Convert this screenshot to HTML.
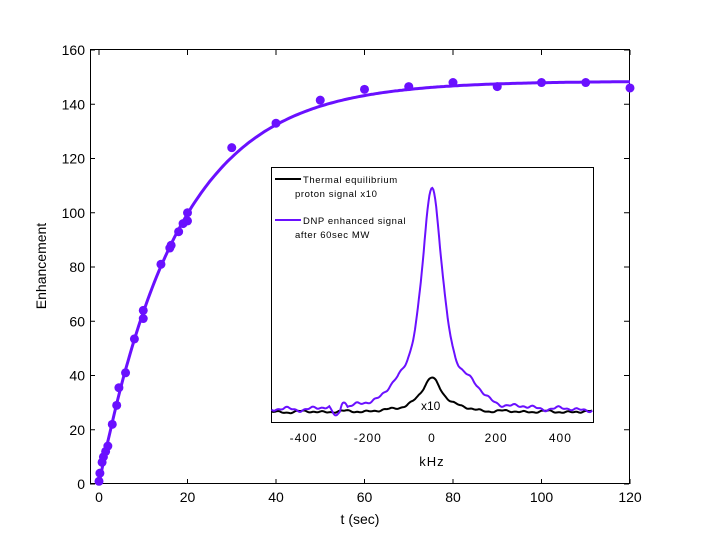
<!DOCTYPE html>
<html><head><meta charset="utf-8"><style>
body{margin:0;background:#fff;}
svg text{font-family:"Liberation Sans",sans-serif;}
</style></head><body>
<svg id="s" width="720" height="540" xmlns="http://www.w3.org/2000/svg">
<rect width="720" height="540" fill="#fff"/>
</svg>
<script>
const S=document.getElementById('s'),NS="http://www.w3.org/2000/svg";
function el(t,a,txt){const e=document.createElementNS(NS,t);for(const k in a)e.setAttribute(k,a[k]);if(txt!==undefined)e.textContent=txt;S.appendChild(e);return e;}
const X=t=>99+t*88.5/20, Y=v=>484-v*2.7125;
el('rect',{x:90.5,y:49.5,width:539,height:434,fill:'none',stroke:'#000','stroke-width':1});
for(let t=0;t<=120;t+=20){const x=X(t);el('line',{x1:x,y1:484,x2:x,y2:479,stroke:'#000'});el('line',{x1:x,y1:50,x2:x,y2:55,stroke:'#000'});
el('text',{x:x,y:502,'font-size':14,'text-anchor':'middle'},t);}
for(let v=0;v<=160;v+=20){const y=Y(v);el('line',{x1:90,y1:y,x2:95,y2:y,stroke:'#000'});el('line',{x1:629,y1:y,x2:624,y2:y,stroke:'#000'});
el('text',{x:85,y:y+5,'font-size':14,'text-anchor':'end'},v);}
el('text',{x:360,y:524,'font-size':14,'text-anchor':'middle'},'t (sec)');
el('text',{x:46,y:266,'font-size':14,'text-anchor':'middle',transform:'rotate(-90 46 266)'},'Enhancement');
const C='#6a10ff';
let d='';for(let t=0;t<=120;t+=0.5){d+=(t?'L':'M')+X(t).toFixed(1)+' '+Y(148.5*(1-Math.exp(-t/18))).toFixed(1);}
el('path',{d:d,fill:'none',stroke:C,'stroke-width':3});
const pts=[[0,1],[0.2,4],[0.7,8],[1,10],[1.5,12],[2,14],[3,22],[4,29],[4.5,35.5],[6,41],[8,53.5],[10,61],[10,64],[14,81],[16,87],[16.3,88],[18,93],[19,96],[20,97],[20,100],[30,124],[40,133],[50,141.5],[60,145.5],[70,146.5],[80,148],[90,146.5],[100,148],[110,148],[120,146]];
pts.forEach(p=>el('circle',{cx:X(p[0]),cy:Y(p[1]),r:4.5,fill:C}));
el('rect',{x:271.5,y:167.5,width:322,height:255,fill:'#fff',stroke:'#000'});
const IX=k=>432+k*0.321;
[-400,-200,0,200,400].forEach(k=>el('text',{x:IX(k),y:442,'font-size':12,'text-anchor':'middle','letter-spacing':'1'},k));
el('text',{x:432,y:466,'font-size':13,'text-anchor':'middle','letter-spacing':'1'},'kHz');
function noise(k,a,seed){return a*(Math.sin(k*0.09+seed)*0.5+Math.sin(k*0.23+seed*2)*0.3+Math.sin(k*0.05+seed*3)*0.4);}
let dp='',db='';
for(let k=-500;k<=500;k+=3){
 let p=411-215/(1+Math.pow(k/40,2))-10*Math.exp(-Math.pow(k/60,2))-12*Math.exp(-Math.pow((k-120)/40,2))-8*Math.exp(-Math.pow((k+120)/40,2))+noise(k,2.5,1);
 if(Math.abs(k+300)<20)p+=8*Math.cos((k+300)/20*Math.PI/2);
 if(Math.abs(k+275)<12)p-=7*Math.cos((k+275)/12*Math.PI/2);
 let b=412-28/(1+Math.pow(k/35,2))-6*Math.exp(-Math.pow(k/90,2))+noise(k,1.5,4);
 dp+=(k>-500?'L':'M')+IX(k).toFixed(1)+' '+p.toFixed(1);
 db+=(k>-500?'L':'M')+IX(k).toFixed(1)+' '+b.toFixed(1);}
el('path',{d:db,fill:'none',stroke:'#000','stroke-width':2});
el('path',{d:dp,fill:'none',stroke:C,'stroke-width':2});
el('text',{x:421,y:410,'font-size':12},'x10');
el('line',{x1:275,y1:179,x2:301,y2:179,stroke:'#000','stroke-width':2});
el('text',{x:303,y:183,'font-size':9.5,'letter-spacing':'0.6'},'Thermal equilibrium');
el('text',{x:295,y:197,'font-size':9.5,'letter-spacing':'0.6'},'proton signal x10');
el('line',{x1:275,y1:220,x2:301,y2:220,stroke:C,'stroke-width':2});
el('text',{x:303,y:224,'font-size':9.5,'letter-spacing':'0.6'},'DNP enhanced signal');
el('text',{x:295,y:238,'font-size':9.5,'letter-spacing':'0.6'},'after 60sec MW');
</script>
</body></html>
